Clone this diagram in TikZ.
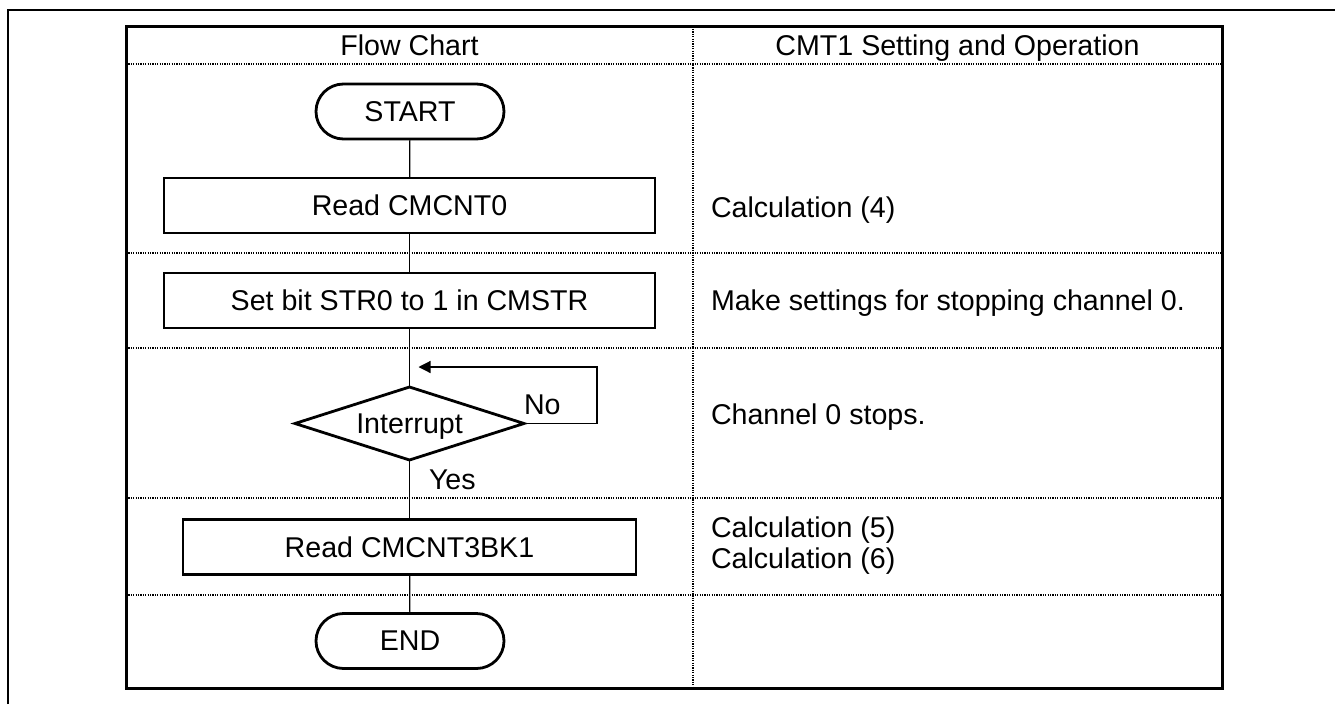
\documentclass[tikz,border=0pt]{standalone}
\usepackage{fontspec}
\setmainfont{Liberation Sans}
\usetikzlibrary{shapes.geometric,arrows.meta}
\begin{document}
\begin{tikzpicture}[x=1pt,y=-1pt,
  every node/.style={font=\fontsize{28.6}{31.6}\selectfont, inner sep=0pt, outer sep=0pt},
  terminal/.style={draw, line width=2.8pt, rounded corners=27.5pt, minimum width=188pt, minimum height=55pt},
  procbox/.style={draw, line width=2.8pt, minimum height=55pt},
  decision/.style={draw, diamond, line width=2.8pt, minimum width=229pt, minimum height=73pt, aspect=3.1, text depth=0pt},
  conn/.style={line width=1.2pt},
  sep/.style={line width=1.2pt, dash pattern=on 1.2pt off 1.2pt},
  note/.style={anchor=base west},
  head/.style={anchor=base}
]
\useasboundingbox (0,0) rectangle (1335,704);
% outer frame
\draw[line width=2pt] (8,704) -- (8,10) -- (1335,10);
% table separators
\draw[sep] (126,64) -- (1222,64);
\draw[sep] (126,253) -- (1222,253);
\draw[sep] (126,348) -- (1222,348);
\draw[sep] (126,498) -- (1222,498);
\draw[sep] (126,595) -- (1222,595);
\draw[sep] (693,26.5) -- (693,688);
% table border
\draw[line width=3pt] (126,26.5) rectangle (1222,688);
% headers
\node[head] (h1) at (409.5,55) {Flow Chart};
\node[head] (h2) at (957.5,55) {CMT1 Setting and Operation};
% flow chart
\node[terminal] (start) at (410,111.5) {START};
\node[procbox, minimum width=491pt] (rd0) at (409.5,205.5) {Read CMCNT0};
\node[procbox, minimum width=491pt] (str) at (409.5,300.5) {Set bit STR0 to 1 in CMSTR};
\node[decision] (dec) at (409.5,423.5) {Interrupt};
\node[procbox, minimum width=453pt] (rd3) at (409.5,547) {Read CMCNT3BK1};
\node[terminal] (end) at (410,641) {END};
\draw[conn] (start) -- (rd0);
\draw[conn] (rd0) -- (str);
\draw[conn] (str) -- (dec);
\draw[conn] (dec) -- (rd3);
\draw[conn] (rd3) -- (end);
\coordinate (tip) at (418.5,367);
\draw[conn,-{Triangle[length=12pt,width=12pt]}] (dec.east) -- ++(73,0) |- (tip);
\node[anchor=base west] (no) at (524,414) {No};
\node[anchor=base west] (yes) at (429,489) {Yes};
% right column
\node[note] (n1) at (711,217) {Calculation (4)};
\node[note] (n2) at (711,310.5) {Make settings for stopping channel 0.};
\node[note] (n3) at (711,424) {Channel 0 stops.};
\node[note] (n4) at (711,537) {Calculation (5)};
\node[note] (n5) at (711,568.5) {Calculation (6)};
\end{tikzpicture}
\end{document}
